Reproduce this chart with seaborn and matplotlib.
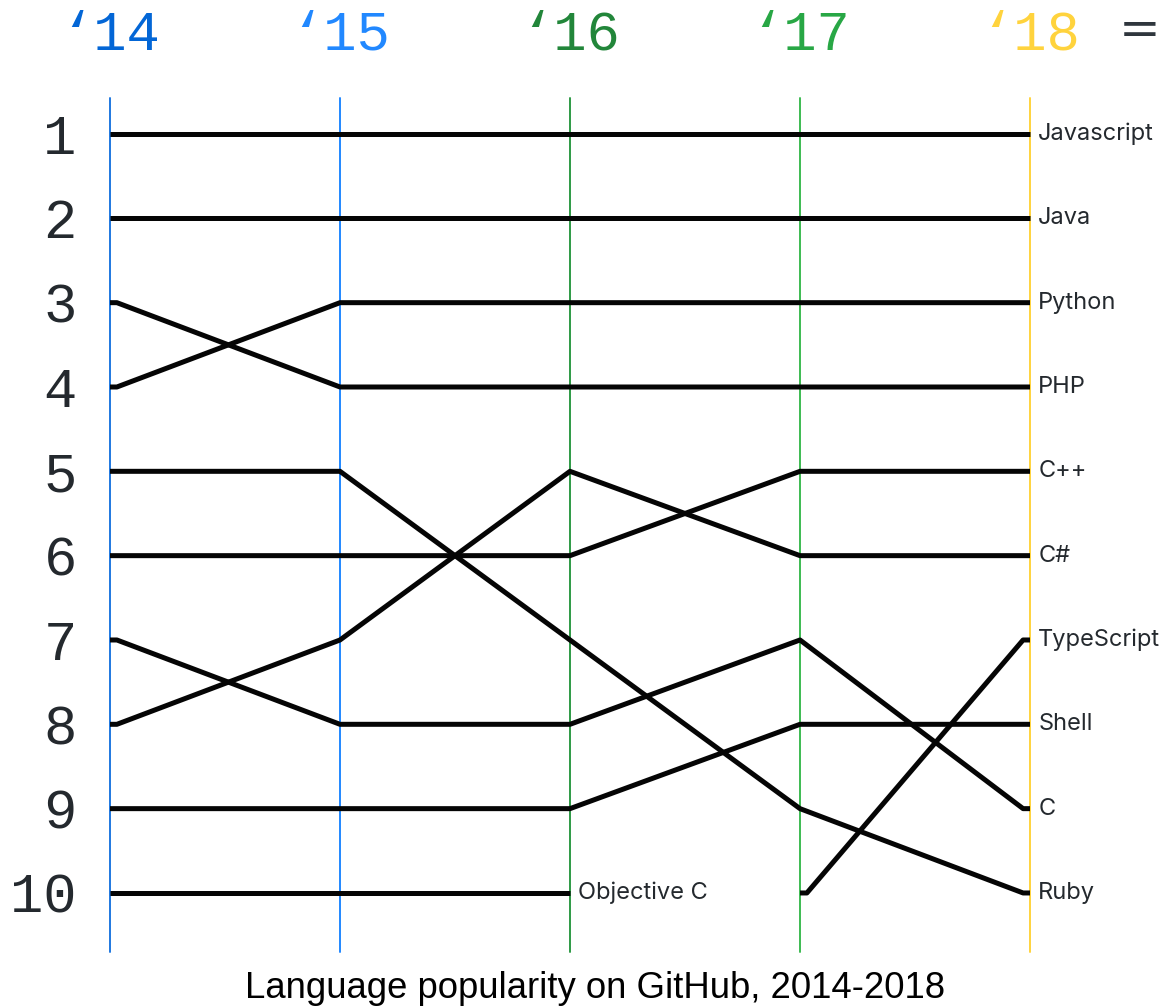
import numpy as np
import pandas as pd
import seaborn as sns
import matplotlib.pyplot as plt

years = [2014, 2015, 2016, 2017, 2018]
year_labels = ["\u201814", "\u201815", "\u201816", "\u201817", "\u201818"]
year_colors = ["#0366d6", "#2188ff", "#22863a", "#28a745", "#ffd33d"]
rule_colors = ["#1f78e0", "#2188ff", "#2e9a45", "#3dbb52", "#ffd33d"]

# rank per year, None = not in top 10
javascript = [1, 1, 1, 1, 1]
java = [2, 2, 2, 2, 2]
python = [4, 3, 3, 3, 3]
php = [3, 4, 4, 4, 4]
cpp = [6, 6, 6, 5, 5]
csharp = [8, 7, 5, 6, 6]
typescript = [None, None, None, 10, 7]
shell = [9, 9, 9, 8, 8]
c = [7, 8, 8, 7, 9]
ruby = [5, 5, 7, 9, 10]
objective_c = [10, 10, 10, None, None]

series = {
    "Javascript": javascript, "Java": java, "Python": python, "PHP": php,
    "C++": cpp, "C#": csharp, "TypeScript": typescript, "Shell": shell,
    "C": c, "Ruby": ruby, "Objective C": objective_c,
}

STUB = 0.03  # flat lead-in/out at each end of a line, in years

rows = []
for lang, ranks in series.items():
    pts = [(yr, r) for yr, r in zip(years, ranks) if r is not None]
    (x0, r0), (x1, r1) = pts[0], pts[-1]
    pts = [pts[0], (x0 + STUB, r0)] + pts[1:-1] + [(x1 - STUB, r1), pts[-1]]
    for yr, r in pts:
        rows.append({"language": lang, "year": yr, "rank": r})
df = pd.DataFrame(rows)

sns.set_theme(style="white")
plt.rcParams["font.family"] = ["Inter", "DejaVu Sans"]
mono = ["Liberation Mono", "DejaVu Sans Mono"]

fig = plt.figure(figsize=(11.63, 10.08), dpi=100)
ax = fig.add_axes([110 / 1163, 1 - 952 / 1008, 920 / 1163, 854 / 1008])

# year rules
for yr, col in zip(years, rule_colors):
    ax.axvline(yr, color=col, lw=1.4, zorder=1, clip_on=False)

sns.lineplot(data=df, x="year", y="rank", hue="language",
             palette={k: "#050505" for k in series}, estimator=None,
             sort=False, linewidth=3.6, legend=False, ax=ax, zorder=3)
for ln in ax.lines[len(years):]:
    ln.set_clip_on(False)
    ln.set_solid_capstyle("butt")
    ln.set_solid_joinstyle("round")

# language names at the end of each line
for lang in series:
    d = df[df.language == lang]
    ax.annotate(lang, (d.year.iloc[-1], d["rank"].iloc[-1]),
                xytext=(6, 0), textcoords="offset points",
                va="center", ha="left", fontsize=17, color="#24292e")

ax.set_xlim(years[0], years[-1])
ax.set_ylim(10.70, 0.573)
ax.set_xticks(years)
ax.set_xticklabels(year_labels)
ax.xaxis.tick_top()
for tick, col in zip(ax.xaxis.get_major_ticks(), year_colors):
    tick.label2.set_color(col)
    tick.label2.set_family(mono)
    tick.label2.set_fontsize(40)
ax.set_yticks(range(1, 11))
ax.set_yticklabels([str(i) for i in range(1, 11)], family=mono,
                   fontsize=40, color="#24292e")
ax.tick_params(axis="x", length=0, pad=26)
ax.tick_params(axis="y", length=0, pad=24)
ax.set_xlabel("")
ax.set_ylabel("")
for s in ax.spines.values():
    s.set_visible(False)

fig.text(1161 / 1163, 1 - 31 / 1008, "=", family=["DejaVu Sans"], fontsize=36,
         color="#2f363d", ha="right", va="center")
fig.text(595 / 1163, 1 - 988 / 1008, "Language popularity on GitHub, 2014-2018",
         family=["Liberation Sans"], fontsize=26.3, color="black",
         ha="center", va="center")

fig.savefig("out.png", dpi=100)
